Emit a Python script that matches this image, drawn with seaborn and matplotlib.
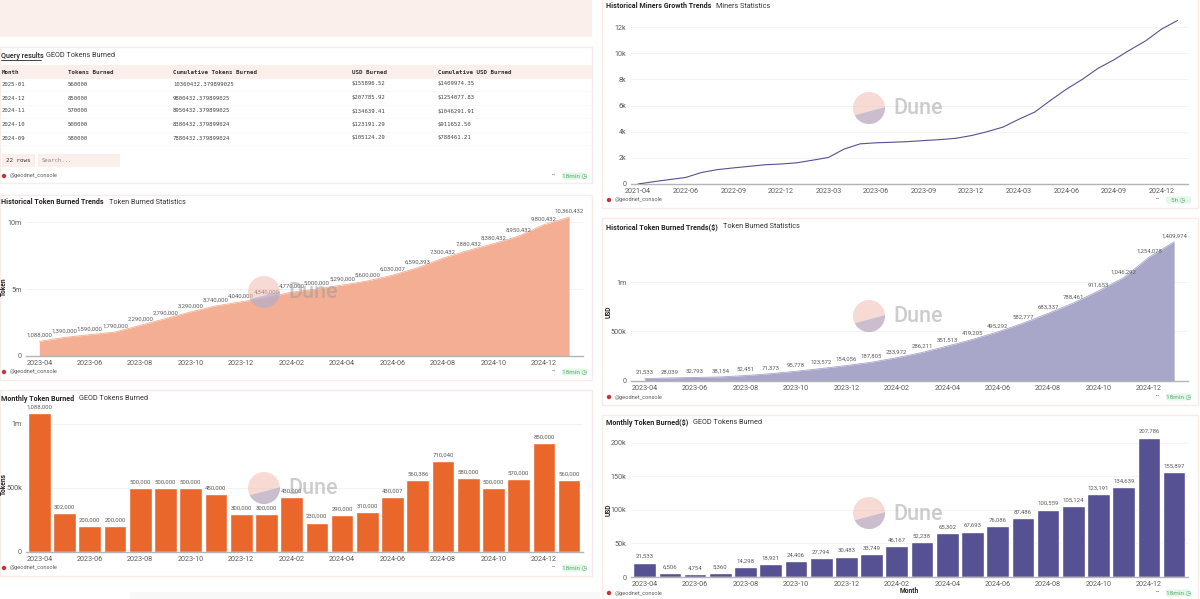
import matplotlib
matplotlib.use('Agg')
import matplotlib.pyplot as plt
from matplotlib.patches import Rectangle, Circle, FancyBboxPatch
import numpy as np
import pandas as pd
import seaborn as sns

# Data
months = ['2023-04', '2023-05', '2023-06', '2023-07', '2023-08', '2023-09', '2023-10', '2023-11',
          '2023-12', '2024-01', '2024-02', '2024-03', '2024-04', '2024-05', '2024-06', '2024-07',
          '2024-08', '2024-09', '2024-10', '2024-11', '2024-12', '2025-01']
tokens_cum = [1088000, 1390000, 1590000, 1790000, 2290000, 2790000, 3290000, 3740000, 4040000,
              4340000, 4770000, 5000000, 5290000, 5600000, 6030007, 6590393, 7300432, 7880432,
              8380432, 8950432, 9800432, 10360432]
tokens_month = [1088000, 302000, 200000, 200000, 500000, 500000, 500000, 450000, 300000, 300000,
                430000, 230000, 290000, 310000, 430007, 560386, 710040, 580000, 500000, 570000,
                850000, 560000]
usd_cum = [21533, 28039, 32793, 38154, 52451, 71373, 95778, 123572, 154056, 187805, 233972, 286211,
           351513, 419205, 495292, 582777, 683337, 788461, 911653, 1046292, 1254078, 1409974]
usd_month = [21533, 6506, 4754, 5360, 14298, 18921, 24406, 27794, 30483, 33749, 46167, 52238, 65302,
             67693, 76086, 87486, 100559, 105124, 123191, 134639, 207786, 155897]

miner_months = ['2021-04', '2022-04', '2022-05', '2022-06', '2022-07', '2022-08', '2022-09', '2022-10',
                '2022-11', '2022-12', '2023-01', '2023-02', '2023-03', '2023-04', '2023-05', '2023-06',
                '2023-07', '2023-08', '2023-09', '2023-10', '2023-11', '2023-12', '2024-01', '2024-02',
                '2024-03', '2024-04', '2024-05', '2024-06', '2024-07', '2024-08', '2024-09', '2024-10',
                '2024-11', '2024-12', '2025-01']
miners = [0, 180, 340, 500, 880, 1100, 1230, 1350, 1470, 1530, 1620, 1820, 2030, 2680, 3070, 3150,
          3190, 3240, 3320, 3390, 3490, 3700, 4000, 4350, 4950, 5500, 6400, 7250, 8000, 8850,
          9500, 10250, 10950, 11850, 12500]

table_cols = ['Month', 'Tokens Burned', 'Cumulative Tokens Burned', 'USD Burned', 'Cumulative USD Burned']
table_month = ['2025-01', '2024-12', '2024-11', '2024-10', '2024-09']
table_tokens = ['560000', '850000', '570000', '500000', '580000']
table_cum = ['10360432.379899025', '9800432.379899025', '8950432.379899025', '8380432.379899024',
             '7880432.379899024']
table_usd = ['$155896.52', '$207785.92', '$134639.41', '$123191.29', '$105124.29']
table_usd_cum = ['$1409974.35', '$1254077.83', '$1046291.91', '$911652.50', '$788461.21']

ORANGE = '#ea672c'
ORANGE_AREA = '#f4ae93'
PURPLE = '#565192'
PURPLE_AREA = '#a8a6c9'
PINK = '#fbefec'
BORDER = '#f8ece8'
GREY = '#5c5c5c'

sns.set_theme(style='white')
plt.rcParams['font.family'] = ['Roboto', 'DejaVu Sans']

W, H = 1200, 599
fig = plt.figure(figsize=(W / 100, H / 100), dpi=100, facecolor='white')

# full-figure layer in pixel coordinates for the cards and texts
bg = fig.add_axes([0, 0, 1, 1], zorder=0)
bg.set_xlim(0, W)
bg.set_ylim(H, 0)
bg.axis('off')


def px_axes(left, right, top, bottom):
    ax = fig.add_axes([left / W, 1 - bottom / H, (right - left) / W, (bottom - top) / H], zorder=1)
    ax.patch.set_alpha(0)
    return ax


def card(x0, x1, y0, y1):
    bg.add_patch(Rectangle((x0, y0), x1 - x0, y1 - y0, fc='white', ec=BORDER, lw=1))


def header(x, y, bold, sub):
    t = bg.text(x, y, bold, fontsize=5.1, fontweight='bold', color='#222222', va='center')
    box = t.get_window_extent(fig.canvas.get_renderer())
    bg.text(box.x1 + 5, y, sub, fontsize=5.2, color='#333333', va='center')


def footer(x0, x1, y, age='18min'):
    bg.add_patch(Circle((x0 + 2, y), 2.2, fc='#c8323c', ec='none'))
    bg.text(x0 + 7.5, y, '@geodnet_console', fontsize=4.1, color=GREY, va='center')
    bg.text(x1 - 36, y - 0.5, '•••', fontsize=3, color='#444444', va='center')
    bg.add_patch(FancyBboxPatch((x1 - 26, y - 3.5), 25, 7, boxstyle='round,pad=0,rounding_size=2',
                                fc='#e3f6e8', ec='none'))
    bg.text(x1 - 13.5, y, age + ' ◷', fontsize=4.6, color='#54b06f', va='center', ha='center')


def watermark(cx, cy):
    top = fig.add_axes([0, 0, 1, 1], zorder=2)
    top.set_xlim(0, W)
    top.set_ylim(H, 0)
    top.axis('off')
    top.patch.set_alpha(0)
    top.add_patch(Circle((cx, cy), 16, fc='#f2b7ab', ec='none', alpha=0.5))
    lower = plt.Polygon([(cx - 17, cy + 8), (cx + 17, cy - 1), (cx + 17, cy + 17), (cx - 17, cy + 17)],
                        fc='white', ec='none', alpha=0)
    top.add_patch(lower)
    blue = Circle((cx, cy), 16, fc='#aaaacb', ec='none', alpha=0.6)
    top.add_patch(blue)
    blue.set_clip_path(lower)
    top.text(cx + 24, cy + 1, 'Dune', fontsize=15.5, fontweight='medium', color='#9a9a9a', alpha=0.5,
             va='center', ha='left')


def style_axes(ax, ylabel, ylabel_x, yticks, yticklabels, xticks, xticklabels):
    ax.set_yticks(yticks)
    ax.set_yticklabels(yticklabels)
    ax.set_xticks(xticks)
    ax.set_xticklabels(xticklabels)
    ax.tick_params(axis='both', length=0, labelsize=5.2, labelcolor=GREY, pad=3)
    ax.grid(axis='y', color='#f2f2f2', lw=0.7)
    ax.set_axisbelow(True)
    for side in ['top', 'left', 'right']:
        ax.spines[side].set_visible(False)
    ax.spines['bottom'].set_color('#b4b4b4')
    ax.spines['bottom'].set_linewidth(1)
    ax.set_xlabel('')
    ax.set_ylabel(ylabel, fontsize=4.8, fontweight='bold', color='#222222')
    box = ax.get_position()
    ax.yaxis.set_label_coords((ylabel_x / W - box.x0) / box.width, 0.46)


def value_labels(ax, xs, ys, offset):
    for x, y in zip(xs, ys):
        ax.annotate(f'{y:,}', (x, y), xytext=(0, offset), textcoords='offset points', ha='center',
                    va='bottom', fontsize=4.3, color=GREY, zorder=5)


def area_chart(ax, values, color):
    df = pd.DataFrame({'month': np.arange(len(months)), 'value': values})
    ax.fill_between(df['month'], df['value'], color=color, lw=0, zorder=2)
    sns.lineplot(data=df, x='month', y='value', color=color, lw=0.6, ax=ax, zorder=3)


def bar_chart(ax, values, color):
    df = pd.DataFrame({'month': months, 'value': values})
    sns.barplot(data=df, x='month', y='value', color=color, saturation=1, width=0.9, ax=ax, zorder=2)


tick_idx = list(range(0, len(months), 2))
tick_lab = [months[i] for i in tick_idx]

# top banner on the left
bg.add_patch(Rectangle((0, -2), 592, 39, fc=PINK, ec='none'))
bg.add_patch(Rectangle((130, 592), 470, 7, fc='#f8f8f8', ec='none'))

# query results table
card(0, 592, 47, 183)
bg.text(1, 55.5, 'Query results', fontsize=5.2, color='#222222', va='center', fontweight='medium')
bg.plot([1, 41], [59.5, 59.5], color='#222222', lw=0.6)
bg.text(46, 55.5, 'GEOD Tokens Burned', fontsize=5.2, color='#333333', va='center')
bg.add_patch(Rectangle((0, 65), 592, 14, fc=PINK, ec='none'))
col_x = [2, 68, 173, 352, 438]
for x, name in zip(col_x, table_cols):
    bg.text(x, 72.5, name, family='DejaVu Sans Mono', fontsize=4.2, fontweight='bold', color='#333333', va='center')
row_y = [84, 98, 111, 124.5, 138]
for i, y in enumerate(row_y):
    row = [table_month[i], table_tokens[i], table_cum[i], table_usd[i], table_usd_cum[i]]
    for x, cell in zip(col_x, row):
        bg.text(x, y, cell, family='DejaVu Sans Mono', fontsize=4.1, color='#444444', va='center')
    bg.plot([0, 592], [y + 7, y + 7], color='#f9f6f5', lw=0.5)
bg.add_patch(Rectangle((2, 154), 33, 13, fc=PINK, ec='none'))
bg.text(18.5, 161, '22 rows', family='DejaVu Sans Mono', fontsize=4.2, color='#333333', va='center', ha='center')
bg.add_patch(Rectangle((38, 154), 82, 13, fc=PINK, ec='none'))
bg.text(42, 161, 'Search...', family='DejaVu Sans Mono', fontsize=4.1, color='#888888', va='center')
footer(2, 588, 176)

# historical token burned
card(0, 592, 195, 380)
header(1, 202.5, 'Historical Token Burned Trends', 'Token Burned Statistics')
footer(2, 588, 372)
ax = px_axes(26, 583, 205, 356)
area_chart(ax, tokens_cum, ORANGE_AREA)
ax.set_xlim(-0.53, 21.55)
ax.set_ylim(0, 11270000)
style_axes(ax, 'Token', 7.5, [0, 5000000, 10000000], ['0', '5m', '10m'], tick_idx, tick_lab)
value_labels(ax, range(len(months)), tokens_cum, 2.5)
watermark(264, 292)

# monthly token burned
card(0, 592, 390, 576)
header(1, 399, 'Monthly Token Burned', 'GEOD Tokens Burned')
footer(2, 588, 568)
ax = px_axes(26, 583, 405, 552)
bar_chart(ax, tokens_month, ORANGE)
ax.set_xlim(-0.53, 21.55)
ax.set_ylim(0, 1148000)
style_axes(ax, 'Tokens', 7.5, [0, 500000, 1000000], ['0', '500k', '1m'], tick_idx, tick_lab)
value_labels(ax, range(len(months)), tokens_month, 2.5)
watermark(264, 488)

# miners growth
card(602, 1198, -2, 208)
header(606, 6.5, 'Historical Miners Growth Trends', 'Miners Statistics')
footer(607, 1192, 200, age='5h')
ax = px_axes(630.6, 1188, 15, 184)
df_miners = pd.DataFrame({'idx': np.arange(len(miner_months)), 'miners': miners})
sns.lineplot(data=df_miners, x='idx', y='miners', color=PURPLE, lw=0.8, ax=ax, zorder=3)
ax.set_xlim(-0.47, 34.66)
ax.set_ylim(0, 12920)
miner_ticks = list(range(0, len(miner_months), 3))
style_axes(ax, '', 612.5, [0, 2000, 4000, 6000, 8000, 10000, 12000], ['0', '2k', '4k', '6k', '8k', '10k', '12k'],
           miner_ticks, [miner_months[i] for i in miner_ticks])
watermark(869, 108)

# historical usd burned
card(602, 1198, 218, 405)
header(606, 227, 'Historical Token Burned Trends($)', 'Token Burned Statistics')
footer(607, 1192, 397)
ax = px_axes(630.6, 1188, 230, 380.7)
area_chart(ax, usd_cum, PURPLE_AREA)
ax.set_xlim(-0.56, 21.55)
ax.set_ylim(0, 1530000)
style_axes(ax, 'USD', 612.5, [0, 500000, 1000000], ['0', '500k', '1m'], tick_idx, tick_lab)
value_labels(ax, range(len(months)), usd_cum, 2.5)
watermark(869, 316)

# monthly usd burned
card(602, 1198, 415, 601)
header(606, 423, 'Monthly Token Burned($)', 'GEOD Tokens Burned')
footer(607, 1192, 593)
ax = px_axes(630.6, 1188, 430, 577)
bar_chart(ax, usd_month, PURPLE)
ax.set_xlim(-0.56, 21.55)
ax.set_ylim(0, 219000)
style_axes(ax, 'USD', 612.5, [0, 50000, 100000, 150000, 200000], ['0', '50k', '100k', '150k', '200k'], tick_idx, tick_lab)
value_labels(ax, range(len(months)), usd_month, 2.5)
bg.text(909, 591, 'Month', fontsize=4.8, fontweight='bold', color='#222222', ha='center', va='center')
watermark(869, 513)

fig.savefig('out.png', dpi=100)
